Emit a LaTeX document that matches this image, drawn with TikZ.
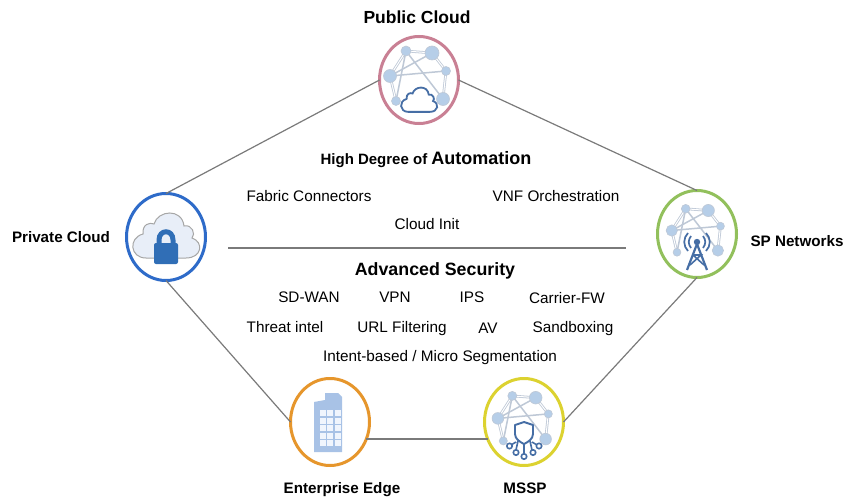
\documentclass[tikz,border=0pt]{standalone}
\usepackage{fontspec}
\setmainfont{Liberation Sans}
\usepackage{xcolor}
\usetikzlibrary{shapes.geometric, positioning}
\definecolor{edgegray}{RGB}{122,122,122}
\definecolor{ringpink}{RGB}{201,128,148}
\definecolor{ringblue}{RGB}{46,107,201}
\definecolor{ringgreen}{RGB}{146,192,92}
\definecolor{ringorange}{RGB}{230,150,44}
\definecolor{ringyellow}{RGB}{220,210,48}
\definecolor{meshblue}{RGB}{182,206,232}
\definecolor{meshlink}{RGB}{190,200,214}
\definecolor{iconblue}{RGB}{70,110,165}
\definecolor{lockblue}{RGB}{48,110,182}
\definecolor{cloudfill}{RGB}{232,238,248}
\definecolor{towerblue}{RGB}{168,194,230}
\definecolor{windowwhite}{RGB}{240,245,253}

\tikzset{
    meshicon/.pic={
        \coordinate (n1) at (-13,-29);
        \coordinate (n2) at (13,-27);
        \coordinate (n3) at (27,-9);
        \coordinate (n4) at (24,19);
        \coordinate (n5) at (-23,21);
        \coordinate (n6) at (-29,-4);
        % outer ring, drawn hollow
        \foreach \a/\b in {1/2,2/3,3/4,5/6,1/6}
            \draw[meshlink, line width=0.8pt, double=white, double distance=1pt] (n\a) -- (n\b);
        % inner links
        \foreach \a/\b in {1/4,2/6,3/6,1/5}
            \draw[meshlink, line width=1.5pt] (n\a) -- (n\b);
        \foreach \a/\r in {1/5,2/7,3/4.5,4/6.5,5/4.5,6/6.5}
            \fill[meshblue, draw=meshlink, line width=0.6pt] (n\a) circle[radius=\r];
    },
    cloudicon/.pic={
        \draw[pic actions] (-10,11) .. controls (-18,11) and (-19,1) .. (-11.5,-1)
            .. controls (-12,-6) and (-8,-7) .. (-6,-6)
            .. controls (-4,-13) and (8,-14) .. (9,-5)
            .. controls (13,-6) and (15,-1) .. (13,1)
            .. controls (19,3) and (18,11) .. (10,11) -- cycle;
    }
}

\begin{document}
\begin{tikzpicture}[
    x=1pt, y=-1pt,
    site/.style={ellipse, draw=#1, line width=3pt, fill=white, inner sep=0pt, outer sep=0pt,
                 minimum width=79pt, minimum height=87pt},
    edge/.style={draw=edgegray, line width=1.2pt},
    sitelabel/.style={font=\fontsize{15.2}{17}\selectfont\bfseries},
    feature/.style={font=\fontsize{15.3}{18}\selectfont, text height=14pt, text depth=3pt},
]
    \useasboundingbox (0,0) rectangle (848,497);
    % Sites
    \node[site=ringpink] (public) at (419,80) {};
    \node[site=ringblue] (private) at (166,237) {};
    \node[site=ringgreen] (sp) at (697,234) {};
    \node[site=ringorange] (enterprise) at (330,422) {};
    \node[site=ringyellow] (mssp) at (524,422) {};

    % Links
    \draw[edge] (public.west) -- (private.north);
    \draw[edge] (public.east) -- (sp.north);
    \draw[edge] (private.south) -- (enterprise.west);
    \draw[edge] (sp.south) -- (mssp.east);
    \draw[edge] (enterprise.335) -- (mssp.205);

    % Site labels
    \node[sitelabel, font=\fontsize{17.5}{20}\selectfont\bfseries] (publiclabel) at (417,17) {Public Cloud};
    \node[sitelabel] (privatelabel) at (61,237) {Private Cloud};
    \node[sitelabel] (splabel) at (797,241) {SP Networks};
    \node[sitelabel] (enterpriselabel) at (342,490) {Enterprise Edge};
    \node[sitelabel] (mssplabel) at (525,488) {MSSP};

    % Public cloud icon
    \pic at (public.center) {meshicon};
    \pic[draw=iconblue, fill=white, line width=1.8pt, scale=1.08] at (419,100) {cloudicon};

    % Private cloud icon
    \pic[draw=gray!70, fill=cloudfill, line width=1pt, scale=2] at (166,236) {cloudicon};
    \draw[lockblue, line width=5pt] (159,246) -- (159,240) .. controls (159,229) and (173,229) .. (173,240) -- (173,246);
    \fill[lockblue, rounded corners=2pt] (154,243) rectangle (178,264);

    % SP icon
    \pic[scale=0.87] at (sp.center) {meshicon};
    \fill[iconblue] (697,242) circle[radius=3.2];
    \draw[iconblue, line width=1.7pt] (691,236) .. controls (688,240) and (688,244) .. (691,248);
    \draw[iconblue, line width=1.7pt] (688,233) .. controls (683,238) and (683,246) .. (688,251);
    \draw[iconblue, line width=1.7pt] (703,236) .. controls (706,240) and (706,244) .. (703,248);
    \draw[iconblue, line width=1.7pt] (706,233) .. controls (711,238) and (711,246) .. (706,251);
    \draw[iconblue, line width=2.2pt, line join=round] (687,270) -- (697,244) -- (707,270);
    \draw[iconblue, line width=1.6pt] (693,255) -- (701,255) -- (690,265) (693,255) -- (704,265);

    % Enterprise icon
    \fill[towerblue] (314,452) -- (314,402) -- (325,400) -- (325,393) -- (338,393) -- (342,397) -- (342,452) -- cycle;
    \foreach \px in {323,330,338}
        \foreach \py in {413,421,428,436,443}
            \fill[windowwhite] (\px-2.6,\py-2.6) rectangle (\px+2.6,\py+2.6);

    % MSSP icon
    \pic[scale=0.9] at (mssp.center) {meshicon};
    \draw[iconblue, line width=1.9pt, fill=white, line join=round] (524,422) -- (533,425) -- (533,434)
        .. controls (533,439) and (528,442) .. (524,444)
        .. controls (520,442) and (515,439) .. (515,434) -- (515,425) -- cycle;
    \draw[iconblue, line width=1.6pt] (524,444) -- (524,454) (518,441) -- (516,450) (530,441) -- (532,450)
        (516,442) -- (511,445) (532,442) -- (537,445);
    \foreach \px/\py in {509.5/446,516/452.5,524/456.5,533/452.5,539/446}
        \draw[iconblue, line width=1.6pt, fill=white] (\px,\py) circle[radius=2.7];

    % Automation block
    \node[font=\fontsize{15}{18}\selectfont\bfseries] (automation) at (426,160)
        {High Degree of {\fontsize{18}{18}\selectfont Automation}};
    \node[feature] (connectors) at (309,196) {Fabric Connectors};
    \node[feature] (vnf) at (556,196) {VNF Orchestration};
    \node[feature] (cloudinit) at (427,224) {Cloud Init};

    % Divider
    \coordinate (divleft) at (228,248);
    \coordinate (divright) at (626,248);
    \draw[edge, line width=1.6pt] (divleft) -- (divright);

    % Security block
    \node[font=\fontsize{17.8}{20}\selectfont\bfseries] (security) at (435,270.5) {Advanced Security};
    \node[feature] (sdwan) at (309,297) {SD-WAN};
    \node[feature] (vpn) at (395,297) {VPN};
    \node[feature] (ips) at (472,297) {IPS};
    \node[feature] (carrier) at (567,298) {Carrier-FW};
    \node[feature] (threat) at (285,327) {Threat intel};
    \node[feature] (url) at (402,327) {URL Filtering};
    \node[feature] (av) at (488,328) {AV};
    \node[feature] (sandbox) at (573,327) {Sandboxing};
    \node[feature] (segment) at (440,356) {Intent-based / Micro Segmentation};
\end{tikzpicture}
\end{document}
